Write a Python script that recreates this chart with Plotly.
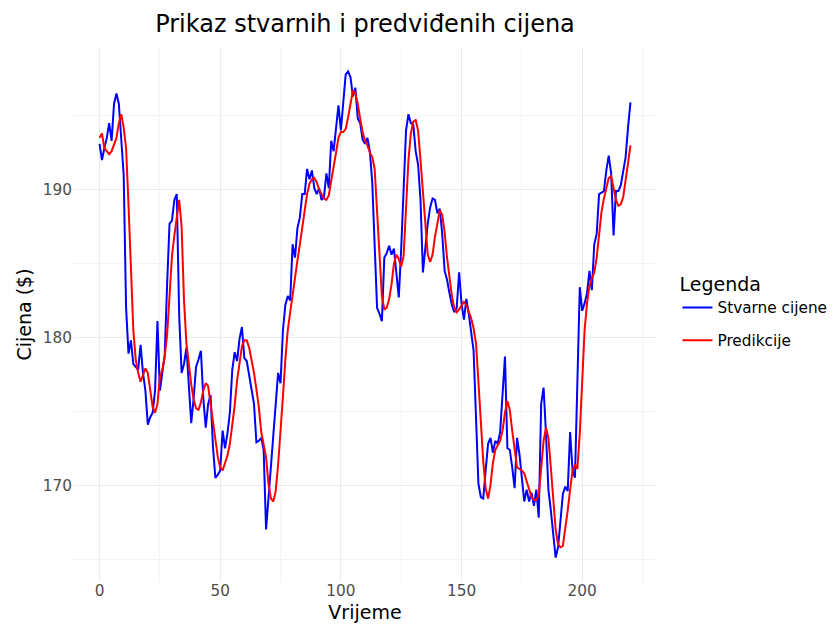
import plotly.graph_objects as go

# Time index
vrijeme = list(range(221))

# Actual prices (blue)
stvarne_cijene = [
    193.1, 192.0, 192.8, 193.5, 194.5, 193.3, 195.8, 196.5, 195.8, 193.1,
    191.0, 182.0, 178.9, 179.8, 178.2, 178.0, 177.8, 179.5, 177.6, 176.4,
    174.1, 174.6, 174.9, 176.4, 181.1, 176.4, 177.8, 178.8, 183.6, 187.7,
    187.9, 189.3, 189.7, 181.5, 177.6, 178.2, 179.3, 176.4, 174.2, 175.9,
    178.0, 178.5, 179.1, 175.9, 173.9, 175.5, 176.1, 172.6, 170.5, 170.7,
    171.0, 173.7, 172.5, 173.5, 174.9, 177.8, 179.0, 178.4, 179.9, 180.7,
    178.6, 178.4, 177.4, 176.6, 175.5, 172.9, 173.0, 173.2, 172.4, 167.0,
    169.2, 170.8, 173.0, 175.3, 177.6, 176.9, 180.5, 182.2, 182.8, 182.5,
    186.3, 185.4, 187.4, 188.1, 189.7, 189.7, 191.4, 190.7, 191.3, 190.1,
    189.7, 190.1, 189.3, 189.5, 191.1, 190.1, 193.3, 192.6, 194.2, 195.7,
    194.0, 196.0, 197.8, 198.0, 197.6, 196.3, 196.9, 194.8, 194.5, 193.4,
    193.1, 193.5, 192.6, 190.5, 186.5, 182.0, 181.6, 181.1, 185.4, 185.7,
    186.2, 185.6, 186.0, 184.5, 182.7, 186.0, 190.6, 194.0, 195.1, 194.5,
    194.4, 192.6, 191.7, 189.3, 184.4, 186.1, 187.7, 188.8, 189.4, 189.3,
    188.4, 188.7, 187.0, 184.5, 183.9, 183.0, 182.2, 181.7, 182.0, 184.4,
    182.3, 181.2, 182.6, 181.6, 180.5, 179.1, 174.6, 170.1, 169.2, 169.1,
    171.0, 172.8, 173.2, 172.2, 173.0, 172.8, 173.6, 176.4, 178.7, 172.5,
    172.4, 171.2, 169.8, 173.2, 172.1, 170.5, 168.9, 169.7, 168.9, 169.5,
    168.6, 169.7, 167.8, 175.5, 176.6, 173.5, 169.7, 168.3, 166.8, 165.1,
    165.8, 167.8, 169.4, 169.9, 169.6, 173.6, 171.0, 170.5, 178.0, 183.4,
    181.8, 182.3, 183.0, 184.5, 183.2, 186.3, 187.0, 189.7, 189.8, 189.9,
    191.3, 192.3, 191.1, 186.9, 189.9, 189.9, 190.3, 191.3, 192.2, 194.2,
    195.9,
]

# Predicted prices (red)
predikcije = [
    193.5, 193.8, 192.8, 192.6, 192.4, 192.6, 193.0, 193.5, 194.5, 195.1,
    194.2, 192.8, 189.0, 184.0, 180.5, 178.5, 177.6, 177.0, 177.5, 177.9,
    177.6, 176.4, 175.3, 174.9, 175.5, 177.3, 177.8, 178.7, 180.2, 182.8,
    185.5, 186.9, 188.1, 189.3, 187.5, 182.5, 179.6, 178.0, 176.8, 175.8,
    175.2, 175.1, 175.6, 176.4, 176.9, 176.7, 175.5, 174.6, 173.2, 171.9,
    171.2, 171.0, 171.5, 172.0, 172.8, 174.0, 175.4, 177.1, 178.4, 179.4,
    179.8, 179.8, 179.3, 178.5, 177.6, 176.5, 175.3, 173.6, 172.6, 171.9,
    170.1, 169.1, 168.9, 169.6, 171.4, 173.5, 176.0, 178.5, 180.5, 181.7,
    183.0, 184.3, 185.2, 186.3, 187.4, 188.8, 189.7, 190.4, 190.7, 190.8,
    190.5, 190.0, 189.7, 189.4, 189.3, 189.6, 190.6, 191.7, 192.5, 193.5,
    193.9, 193.9, 194.1, 194.9, 195.8, 196.7, 196.5, 195.8, 194.8, 193.9,
    193.3, 193.0, 192.5, 192.2, 191.4, 188.6, 185.8, 182.8, 181.9, 182.0,
    182.6, 183.6, 185.0, 185.6, 185.3, 184.8, 185.5, 188.5, 192.0, 193.8,
    194.6, 194.7, 194.0, 192.0, 189.7, 187.2, 185.6, 185.1, 185.6, 186.8,
    187.8, 188.6, 188.3, 187.1, 185.4, 183.9, 182.8, 182.0, 181.7, 181.9,
    182.2, 182.4, 182.2, 181.8, 181.3, 180.6, 179.6, 177.0, 174.0, 171.6,
    169.8, 169.1, 170.0, 171.5, 172.4, 172.7, 173.0, 173.7, 174.9, 175.7,
    175.1, 173.7, 172.6, 171.2, 171.1, 171.0, 170.8, 170.3, 169.7, 169.2,
    169.0, 169.0, 169.3, 171.0, 173.0, 173.9, 173.2, 171.2, 169.0, 167.0,
    166.0, 165.8, 165.9, 167.0, 168.3, 169.7, 171.0, 171.4, 171.1, 173.5,
    177.5, 180.5, 182.3, 183.5, 184.0, 184.4, 185.4, 187.0, 188.5, 189.4,
    190.1, 190.8, 190.9, 190.2, 189.3, 188.9, 189.0, 189.5, 190.5, 191.8,
    193.0,
]

x_ticks = [0, 50, 100, 150, 200]
y_ticks = [170, 180, 190]

FONT = "DejaVu Sans"

fig = go.Figure()
fig.add_trace(go.Scatter(
    x=vrijeme, y=stvarne_cijene, mode="lines", name="Stvarne cijene",
    line=dict(color="#0000ff", width=2), legendgroup="a",
))
fig.add_trace(go.Scatter(
    x=vrijeme, y=predikcije, mode="lines", name="Predikcije",
    line=dict(color="#ff0000", width=2), legendgroup="b",
))

fig.update_layout(
    width=837, height=630,
    margin=dict(l=73, r=180, t=47, b=48, autoexpand=False),
    paper_bgcolor="white", plot_bgcolor="white",
    font=dict(family=FONT, color="black"),
    title=dict(
        text="Prikaz stvarnih i predviđenih cijena",
        x=0.5, xref="paper", xanchor="center",
        y=1 - 24 / 630, yref="container", yanchor="middle",
        font=dict(size=24, color="black", family=FONT),
    ),
    legend=dict(
        title=dict(text="Legenda", font=dict(size=19, color="black")),
        font=dict(size=15.3, color="black"),
        x=1.035, xanchor="left", y=0.505, yanchor="middle",
        traceorder="grouped", tracegroupgap=10,
        bgcolor="rgba(0,0,0,0)",
    ),
    showlegend=True,
)

fig.update_xaxes(
    range=[-11, 231], tickvals=x_ticks, ticktext=[str(v) for v in x_ticks],
    showgrid=True, gridcolor="#ebebeb", gridwidth=1.3,
    minor=dict(dtick=25, tick0=0, showgrid=True, gridcolor="#f4f4f4", gridwidth=0.7),
    zeroline=False, showline=False, ticks="", ticklen=0, automargin=False,
    ticklabelstandoff=-2,
    tickfont=dict(size=15.3, color="#4d4d4d"),
    title=dict(text="Vrijeme", font=dict(size=19, color="black"), standoff=6),
)
fig.update_yaxes(
    range=[163.45, 199.65], tickvals=y_ticks, ticktext=[str(v) for v in y_ticks],
    showgrid=True, gridcolor="#ebebeb", gridwidth=1.3,
    minor=dict(dtick=5, tick0=165, showgrid=True, gridcolor="#f4f4f4", gridwidth=0.7),
    zeroline=False, showline=False, ticks="", ticklen=0, automargin=False,
    tickfont=dict(size=15.3, color="#4d4d4d"),
    title=dict(text="Cijena ($)", font=dict(size=19, color="black"), standoff=6),
)

fig.write_html(
    "out.html",
    config={"displayModeBar": False},
    post_script="document.body.style.margin='0px';document.body.style.padding='0px';",
)
